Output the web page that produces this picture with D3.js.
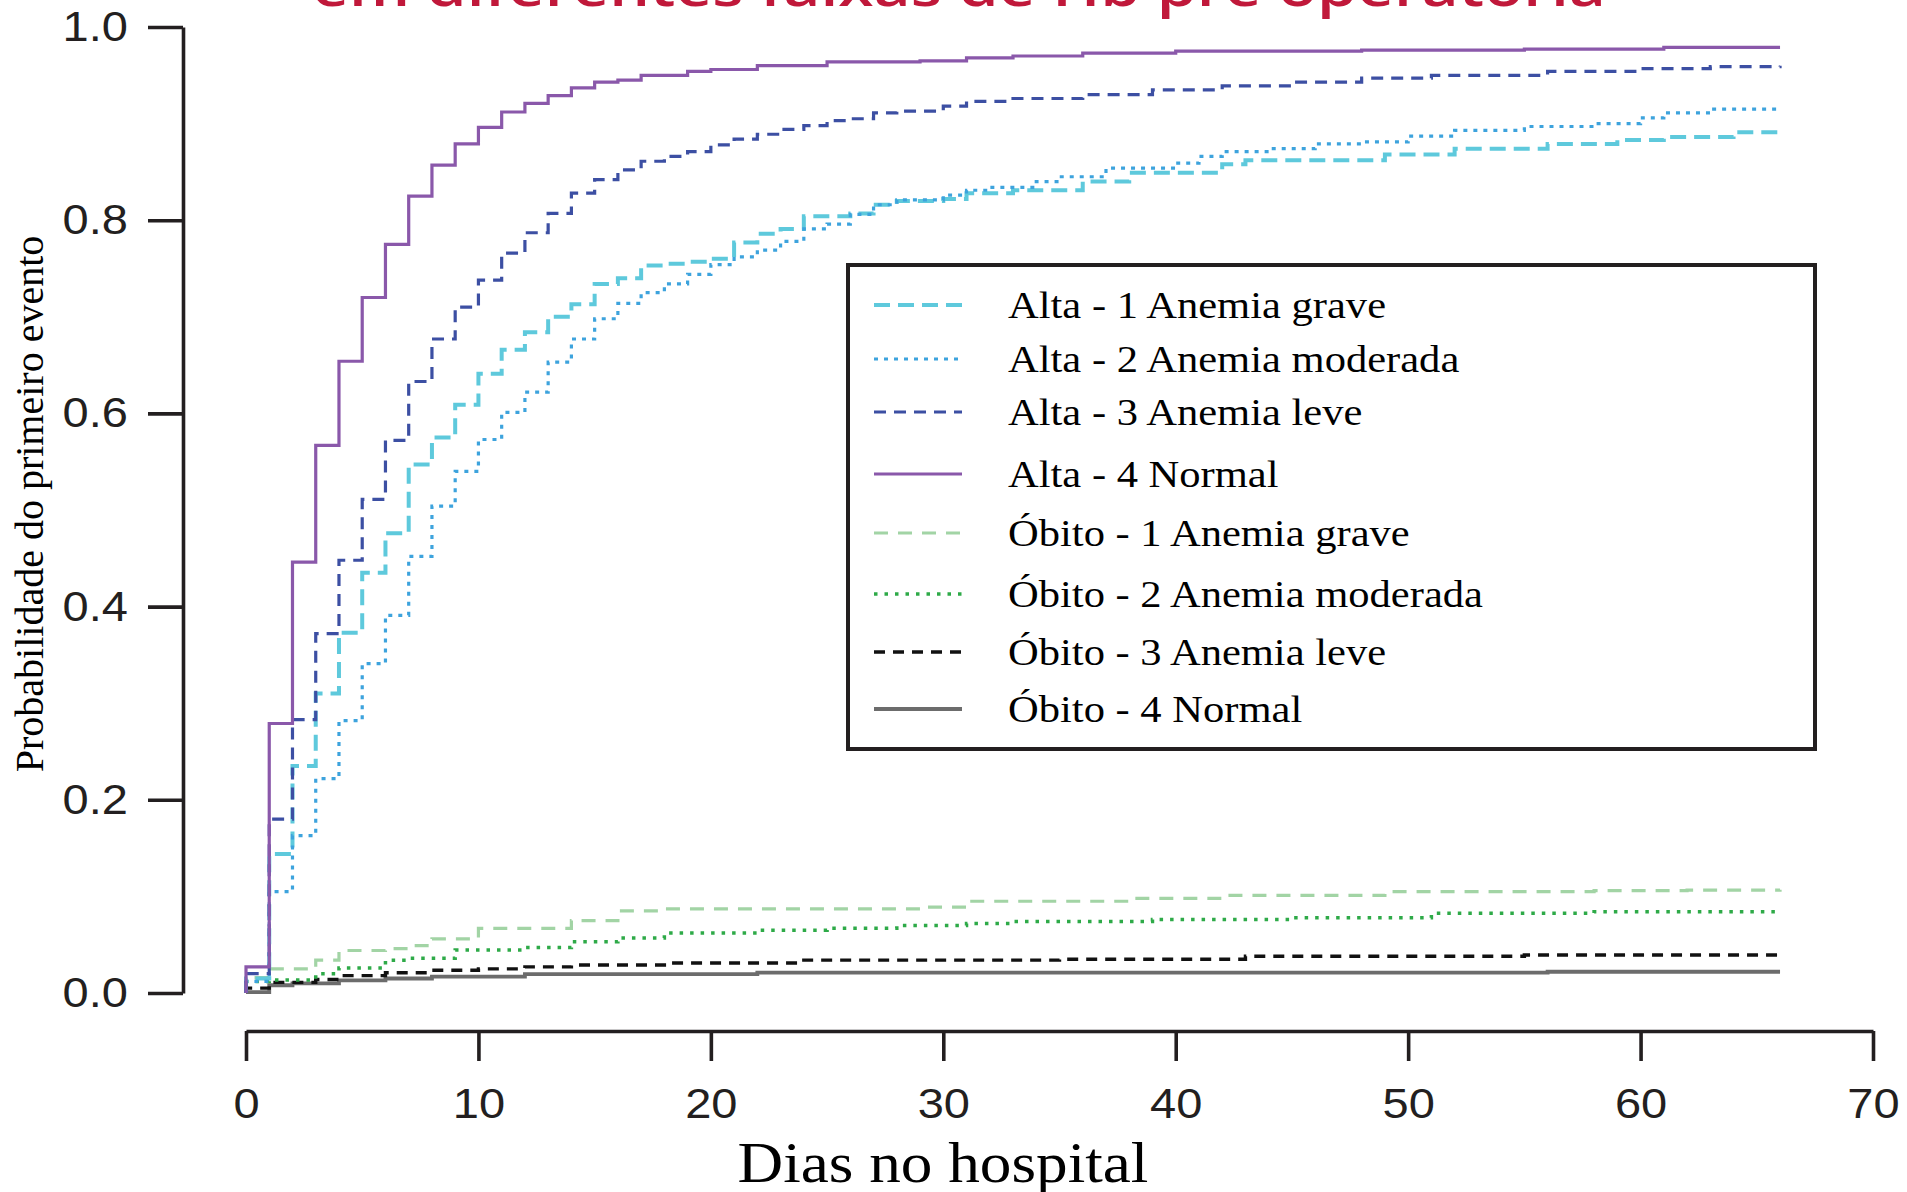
<!DOCTYPE html>
<html>
<head>
<meta charset="utf-8">
<title>Probabilidade do primeiro evento</title>
<script src="https://cdn.jsdelivr.net/npm/d3@7"></script>
<style>
  body { margin: 0; background: #fff; }
  svg { display: block; }
</style>
</head>
<body>
<script>
// cumulative incidence: [day, probability]
const altaGrave = [[0,0.015],[1,0.144],[2,0.235],[3,0.310],[4,0.373],[5,0.435],[6,0.476],[7,0.547],[8,0.575],
  [9,0.609],[10,0.641],[11,0.666],[12,0.684],[13,0.700],[14,0.713],[15,0.734],[16,0.740],[17,0.753],[18,0.755],
  [19,0.757],[20,0.760],[21,0.777],[22,0.786],[23,0.791],[24,0.804],[26,0.807],[27,0.816],[28,0.820],[30,0.822],
  [31,0.828],[33,0.831],[36,0.840],[38,0.849],[42,0.858],[43,0.862],[49,0.868],[52,0.874],[56,0.879],[59,0.883],
  [61,0.886],[64,0.891],[66,0.893]];
const altaModerada = [[0,0.012],[1,0.105],[2,0.163],[3,0.222],[4,0.282],[5,0.341],[6,0.391],[7,0.452],[8,0.504],
  [9,0.540],[10,0.573],[11,0.601],[12,0.622],[13,0.653],[14,0.677],[15,0.698],[16,0.714],[17,0.725],[18,0.734],
  [19,0.744],[20,0.754],[21,0.762],[22,0.769],[23,0.778],[24,0.791],[25,0.796],[26,0.806],[27,0.816],[28,0.821],
  [30,0.826],[31,0.831],[32,0.834],[34,0.840],[35,0.845],[37,0.854],[40,0.859],[41,0.866],[42,0.871],[44,0.874],
  [46,0.879],[48,0.881],[50,0.887],[52,0.893],[55,0.897],[58,0.900],[60,0.906],[61,0.911],[63,0.915],[66,0.915]];
const altaLeve = [[0,0.020],[1,0.180],[2,0.283],[3,0.372],[4,0.448],[5,0.511],[6,0.572],[7,0.633],[8,0.677],
  [9,0.710],[10,0.738],[11,0.766],[12,0.787],[13,0.807],[14,0.828],[15,0.842],[16,0.852],[17,0.861],[18,0.866],
  [19,0.871],[20,0.878],[21,0.884],[22,0.889],[23,0.894],[24,0.898],[25,0.903],[26,0.905],[27,0.911],[28,0.913],
  [30,0.918],[31,0.923],[33,0.926],[36,0.930],[39,0.935],[42,0.939],[45,0.943],[48,0.947],[51,0.950],[56,0.954],
  [60,0.957],[63,0.959],[66,0.960]];
const altaNormal = [[0,0.027],[1,0.279],[2,0.446],[3,0.567],[4,0.654],[5,0.720],[6,0.775],[7,0.825],[8,0.857],
  [9,0.879],[10,0.896],[11,0.912],[12,0.921],[13,0.929],[14,0.937],[15,0.943],[16,0.945],[17,0.950],[19,0.954],
  [20,0.956],[22,0.960],[25,0.964],[29,0.965],[31,0.968],[33,0.970],[36,0.973],[40,0.975],[48,0.976],[55,0.977],
  [61,0.979],[66,0.979]];
const obitoGrave = [[0,0.016],[1,0.025],[3,0.034],[4,0.044],[6,0.046],[7,0.049],[8,0.056],[10,0.067],[14,0.075],
  [16,0.085],[18,0.087],[29,0.089],[31,0.095],[38,0.098],[42,0.101],[49,0.105],[58,0.106],[62,0.1065],[66,0.107]];
const obitoModerada = [[0,0.012],[1,0.0135],[3,0.020],[4,0.026],[6,0.034],[7,0.036],[9,0.0445],[12,0.047],
  [14,0.053],[16,0.057],[18,0.062],[22,0.065],[25,0.067],[28,0.070],[31,0.072],[33,0.074],[39,0.076],[45,0.078],
  [51,0.0825],[58,0.084],[66,0.085]];
const obitoLeve = [[0,0.005],[1,0.011],[3,0.014],[4,0.018],[6,0.021],[8,0.0235],[10,0.025],[12,0.027],[14,0.029],
  [18,0.031],[24,0.034],[35,0.035],[43,0.038],[55,0.0393],[66,0.040]];
const obitoNormal = [[0,0.001],[1,0.008],[2,0.010],[4,0.013],[6,0.015],[8,0.017],[12,0.0195],[22,0.021],
  [56,0.022],[66,0.022]];

const seriesLabels = ["Alta - 1 Anemia grave", "Alta - 2 Anemia moderada", "Alta - 3 Anemia leve",
  "Alta - 4 Normal", "Óbito - 1 Anemia grave", "Óbito - 2 Anemia moderada", "Óbito - 3 Anemia leve",
  "Óbito - 4 Normal"];
const seriesData = [altaGrave, altaModerada, altaLeve, altaNormal,
                    obitoGrave, obitoModerada, obitoLeve, obitoNormal];

const xTicks = [0, 10, 20, 30, 40, 50, 60, 70];
const yTicks = [0, 0.2, 0.4, 0.6, 0.8, 1.0];

const titleText = "em diferentes faixas de Hb pré operatória";
const xTitle = "Dias no hospital";
const yTitle = "Probabilidade do primeiro evento";

// line looks, same order as the labels
const styles = [
  {color: "#5ec9dc", dash: "16,8", width: 4},
  {color: "#3da3dd", dash: "4,6", width: 3.2},
  {color: "#3c4fa3", dash: "12,8", width: 3.2},
  {color: "#8a58aa", dash: null, width: 3.2},
  {color: "#a2d4a5", dash: "14,10", width: 3.2},
  {color: "#2eaa48", dash: "3.5,7", width: 3.5},
  {color: "#111111", dash: "11,8", width: 3.4},
  {color: "#6c6c6c", dash: null, width: 3.8}
];

// legend rows are not evenly spaced in the original
var legendBaselines = [318, 372, 425, 487, 546, 607, 665, 722];

var w = 1907;
var h = 1192;
var axisColor = "#231f20";
var stretch = 1.12;   // the picture is a little wider than tall

var svg = d3.select("body")
            .append("svg")
            .attr("width", w)
            .attr("height", h);

var xScale = d3.scaleLinear().domain([0, 70]).range([246, 1873]);
var yScale = d3.scaleLinear().domain([0, 1]).range([993, 27]);

// title, mostly cut off at the top edge
svg.append("text")
   .attr("x", 312)
   .attr("y", 6)
   .attr("textLength", 1294)
   .attr("lengthAdjust", "spacingAndGlyphs")
   .style("font-family", "'Open Sans', 'DejaVu Sans', sans-serif")
   .style("font-weight", 600)
   .style("font-size", "52px")
   .style("fill", "#c0183a")
   .text(titleText);

// step curves, death curves first so purple ends on top
var line = d3.line()
             .x(function(d) { return xScale(d[0]); })
             .y(function(d) { return yScale(d[1]); })
             .curve(d3.curveStepAfter);

var order = [7, 6, 5, 4, 0, 1, 2, 3];
order.forEach(function(i) {
  svg.append("path")
     .datum([[0, 0]].concat(seriesData[i]))
     .attr("d", line)
     .attr("fill", "none")
     .attr("stroke", styles[i].color)
     .attr("stroke-width", styles[i].width)
     .attr("stroke-dasharray", styles[i].dash)
     .attr("stroke-linejoin", "miter");
});

// y axis
var yAxis = svg.append("g")
   .attr("transform", "translate(183,0)")
   .call(d3.axisLeft(yScale)
           .tickValues(yTicks)
           .tickFormat(d3.format(".1f"))
           .tickSize(35)
           .tickSizeOuter(0)
           .tickPadding(20));

// x axis
var xAxis = svg.append("g")
   .attr("transform", "translate(0,1031)")
   .call(d3.axisBottom(xScale)
           .tickValues(xTicks)
           .tickSize(30)
           .tickSizeOuter(0)
           .tickPadding(27));

[yAxis, xAxis].forEach(function(ax) {
  ax.select(".domain").attr("stroke", axisColor).attr("stroke-width", 3.6);
  ax.selectAll(".tick line").attr("stroke", axisColor).attr("stroke-width", 3.6);
  ax.selectAll("text")
    .style("font-family", "'Liberation Sans', Arial, sans-serif")
    .style("font-size", "42px")
    .style("fill", axisColor);
});
yAxis.selectAll("text")
     .attr("x", -55 / stretch)
     .attr("transform", "scale(" + stretch + ",1)");
xAxis.selectAll("text")
     .attr("transform", "scale(" + stretch + ",1)");

// axis titles
svg.append("text")
   .attr("transform", "translate(943,1182) scale(1.09,1)")
   .style("text-anchor", "middle")
   .style("font-family", "'Liberation Serif', 'Times New Roman', serif")
   .style("font-size", "58px")
   .style("fill", "#000")
   .text(xTitle);

svg.append("text")
   .attr("transform", "translate(43,504) rotate(-90)")
   .style("text-anchor", "middle")
   .style("font-family", "'Liberation Serif', 'Times New Roman', serif")
   .style("font-size", "40px")
   .style("fill", "#000")
   .text(yTitle);

// legend
var legend = svg.append("g");
legend.append("rect")
      .attr("x", 848)
      .attr("y", 265)
      .attr("width", 967)
      .attr("height", 484)
      .attr("fill", "#fff")
      .attr("stroke", axisColor)
      .attr("stroke-width", 4);

seriesLabels.forEach(function(label, i) {
  var base = legendBaselines[i];
  legend.append("line")
        .attr("x1", 874)
        .attr("x2", 962)
        .attr("y1", base - 13)
        .attr("y2", base - 13)
        .attr("stroke", styles[i].color)
        .attr("stroke-width", styles[i].width)
        .attr("stroke-dasharray", styles[i].dash);
  legend.append("text")
        .attr("transform", "translate(1008," + base + ") scale(1.12,1)")
        .style("font-family", "'Liberation Serif', 'Times New Roman', serif")
        .style("font-size", "38px")
        .style("fill", "#000")
        .text(label);
});
</script>
</body>
</html>
